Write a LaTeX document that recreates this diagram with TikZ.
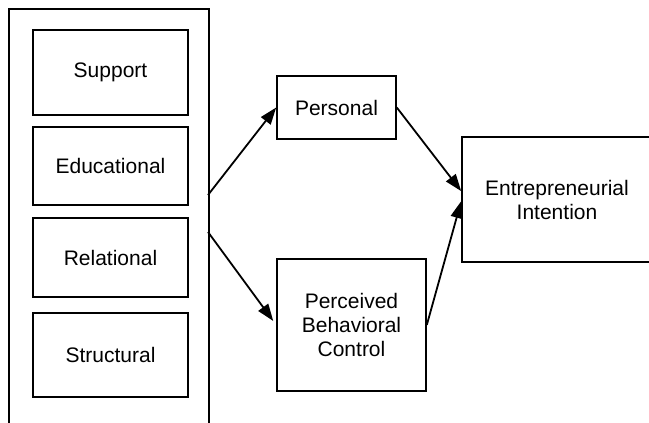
\documentclass[tikz,border=0pt]{standalone}
\usepackage{fontspec}
\setmainfont{Liberation Sans}
\usepackage{tikz}
\usetikzlibrary{positioning,arrows.meta}
\tikzset{caja/.style={draw,rectangle,line width=1.6pt,inner sep=0pt,align=center,font=\fontsize{21}{24}\selectfont}}
\tikzset{flecha/.style={line width=1.8pt,-{Triangle[length=17pt,width=12pt]}}}

\begin{document}
\begin{tikzpicture}[x=1pt,y=-1pt]
            \clip (0,0) rectangle (649,423);
            \node[draw,line width=1.2pt,minimum width=200pt,minimum height=431pt] (marco) at (109,224.5) {};
            \node[caja,minimum width=155pt,minimum height=85pt] (sup) at (110.5,72.5) {Support};
            \node[caja,minimum width=155pt,minimum height=78pt] (edu) at (110.5,166) {Educational};
            \node[caja,minimum width=155pt,minimum height=79pt] (rel) at (110.5,257.5) {Relational};
            \node[caja,minimum width=155pt,minimum height=84pt] (est) at (110.5,355) {Structural};
            \node[caja,minimum width=119pt,minimum height=63pt] (per) at (336.5,107.5) {Personal};
            \node[caja,minimum width=149pt,minimum height=132pt] (pbc) at (351.5,325) {Perceived\\Behavioral\\Control};
            \node[caja,minimum width=190pt,minimum height=125pt] (ei) at (557,199.5) {Entrepreneurial\\Intention};

            \coordinate (s1) at (208,195);
            \coordinate (s2) at (208,232);

            \draw[flecha] (s1) to (per.west);
            \draw[flecha,shorten >=5pt] (s2) to (pbc.west);
            \draw[flecha] (per.east) to (ei.175.5);
            \draw[flecha] (pbc.east) to (ei.181.5);
        \end{tikzpicture}
\end{document}
